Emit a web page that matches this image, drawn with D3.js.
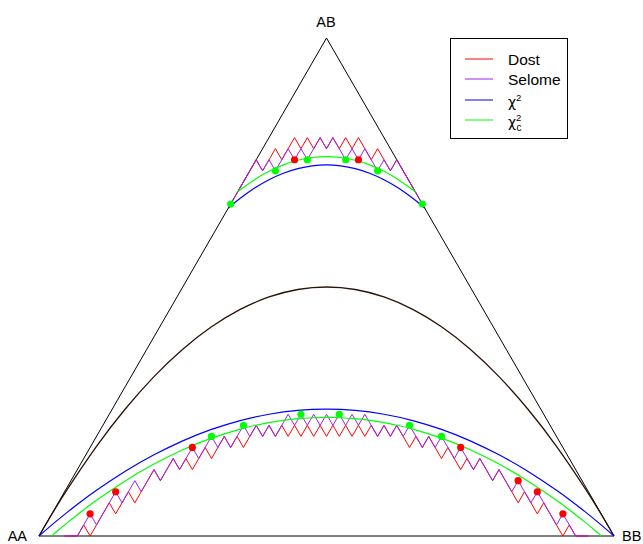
<!DOCTYPE html>
<html><head><meta charset="utf-8">
<script src="https://cdn.jsdelivr.net/npm/d3@7"></script>
<style>html,body{margin:0;padding:0;background:#fff;}svg{display:block;font-family:"Liberation Sans",Arial,Helvetica,sans-serif;}</style>
</head><body><svg id="chart" width="643" height="544"></svg>
<script>
// ---- data ----
const sampleSize = 45;
const vertexLabels = ["AA", "AB", "BB"];
const legendLabels = ["Dost", "Selome", "χ", "χ"];
const legendColors = ["#ff0000", "#a020f0", "#0000ff", "#00ff00"];

// acceptance-region boundaries on the lattice (B allele count, heterozygote count)
const lowerAlleleB = [4,6,7,8,9,10,11,12,13,14,15,16,17,18,19,20,21,22,23,24,25,26,27,28,29,30,31,32,33,34,35,36,37,38,39,40,41,42,43,44,45,46,47,48,49,50,51,52,53,54,55,56,57,58,59,60,61,62,63,64,65,66,67,68,69,70,71,72,73,74,75,76,77,78,79,80,81,82,83,84,86];
const selomeLowerHet = [0,0,1,2,1,2,3,4,3, 4,5,4,5,6,5,6,7,6,7, 8,7,8,9,8,9,8,9,10,9, 10,9,10,9,10,11,10,11,10,11,10,11, 10,11,10,11,10,11,10,9,10,9, 10,9,10,9,8,9,8,9,8,7, 8,7,6,7,6,5,6,5,4,5, 4,3,4,3,2,1,2,1,0,0];
const dostLowerHet = [0,0,1,0,1,2,3,2,3, 4,3,4,5,6,5,6,7,6,7, 6,7,8,7,8,9,8,9,8,9, 10,9,10,9,10,9,10,9,10,9,10,9, 10,9,10,9,10,9,10,9,10,9, 10,9,8,9,8,9,8,7,8,7, 6,7,6,7,6,5,6,5,4,3, 4,3,2,3,2,1,0,1,0,0];
const selomeUpperAlleleB = [30,31,32,33,34,35,36,37,38,39,40,41,42,43,44,45,46,47,48,49,50,51,52,53,54,55,56,57,58,59,60];
const selomeUpperHet = [30,31,32,33,34,33,34,33,34,35, 34,35,34,35,36,35,36,35,34,35, 34,35,34,33,34,33,34,33,32,31,30];
const dostUpperAlleleB = [31,32,33,34,35,36,37,38,39,40,41,42,43,44,45,46,47,48,49,50,51,52,53,54,55,56,57,58,59];
const dostUpperHet = [31,32,33,34,33,34,35,34,35, 36,35,36,35,36,35,36,35,36,35, 36,35,34,35,34,33,34,33,32,31];

// samples marked with dots (B allele count, heterozygote count)
const redDotAlleleB = [8,12,24,66,75,78,82,40,50];
const redDotHet = [2,4,8,8,5,4,2,34,34];
const greenDotAlleleB = [27,32,41,47,58,63,30,37,42,48,53,60];
const greenDotHet = [9,10,11,11,10,9,30,33,34,34,33,30];

// curves: B allele frequency and heterozygote frequency
const hweFreqB = [0,0.01,0.025,0.05,0.1,0.15,0.2,0.25,0.3,0.35,0.4,0.45,0.5,0.55,0.6,0.65,0.7,0.75,0.8,0.85,0.9,0.95,0.975,0.99,1];
const hweHet = [0,0.0198,0.0488,0.095,0.18,0.255,0.32,0.375,0.42,0.455,0.48,0.495,0.5,0.495,0.48,0.455,0.42,0.375,0.32,0.255,0.18,0.095,0.0488,0.0198,0];
const chiLowFreqB = [0,0.025,0.05,0.075,0.1,0.15,0.2,0.25,0.3,0.35,0.4,0.45,0.5,0.55,0.6,0.65,0.7,0.75,0.8,0.85,0.9,0.925,0.95,0.975,1];
const chiLowHet = [0,0.0248,0.0484,0.0707,0.0917,0.1299,0.1630,0.1911,0.2140,0.2318,0.2445,0.2522,0.2547,0.2522,0.2445,0.2318,0.2140,0.1911,0.1630,0.1299,0.0917,0.0707,0.0484,0.0248,0];
const chiUpFreqB = [0.3291,0.3375,0.35,0.375,0.4,0.425,0.45,0.475,0.5,0.525,0.55,0.575,0.6,0.625,0.65,0.6625,0.6709];
const chiUpHet = [0.6582,0.6665,0.6782,0.6987,0.7155,0.7285,0.7378,0.7434,0.7453,0.7434,0.7378,0.7285,0.7155,0.6987,0.6782,0.6665,0.6582];
const chiCLowFreqB = [0.0219,0.025,0.035,0.05,0.07,0.1,0.15,0.2,0.25,0.3,0.35,0.375,0.4,0.425,0.45,0.475,0.5,0.525,0.55,0.575,0.6,0.625,0.65,0.7,0.75,0.8,0.85,0.9,0.93,0.95,0.965,0.975,0.9781];
const chiCLowHet = [0,0.0033,0.0131,0.0273,0.0457,0.0716,0.1106,0.1444,0.1731,0.1965,0.2147,0.2219,0.2277,0.2323,0.2355,0.2375,0.2381,0.2375,0.2355,0.2323,0.2277,0.2219,0.2147,0.1965,0.1731,0.1444,0.1106,0.0716,0.0457,0.0273,0.0131,0.0033,0];
const chiCUpFreqB = [0.3457,0.35,0.375,0.4,0.425,0.45,0.475,0.5,0.525,0.55,0.575,0.6,0.625,0.65,0.6543];
const chiCUpHet = [0.6914,0.6953,0.7156,0.7323,0.7452,0.7545,0.7600,0.7619,0.7600,0.7545,0.7452,0.7323,0.7156,0.6953,0.6914];

// ---- drawing ----
const svg = d3.select("#chart");
const x = d3.scaleLinear().domain([0, 1]).range([39, 614]);
const y = d3.scaleLinear().domain([0, 1]).range([536, 38]);
const xc = d3.scaleLinear().domain([0, 2 * sampleSize]).range([39, 614]);
const yc = d3.scaleLinear().domain([0, sampleSize]).range([536, 38]);

const zip = (a, b) => a.map((v, i) => [v, b[i]]);
const freqLine = d3.line().x(d => x(d[0])).y(d => y(d[1])).curve(d3.curveNatural);
const countLine = d3.line().x(d => xc(d[0])).y(d => yc(d[1]));

// triangle
svg.append("path")
  .attr("d", d3.line()([[x(0), y(0)], [x(1), y(0)], [x(0.5), y(1)]]) + "Z")
  .attr("fill", "none").attr("stroke", "#000").attr("stroke-width", 1);

// HWE curve
svg.append("path").attr("d", freqLine(zip(hweFreqB, hweHet)))
  .attr("fill", "none").attr("stroke", "#2a1208").attr("stroke-width", 1.3);

// Dost (red) then Selome (purple)
[[lowerAlleleB, dostLowerHet], [dostUpperAlleleB, dostUpperHet]].forEach(([a, h]) => {
  svg.append("path").attr("d", countLine(zip(a, h)))
    .attr("fill", "none").attr("stroke", legendColors[0]).attr("stroke-width", 1);
});
[[lowerAlleleB, selomeLowerHet], [selomeUpperAlleleB, selomeUpperHet]].forEach(([a, h]) => {
  svg.append("path").attr("d", countLine(zip(a, h)))
    .attr("fill", "none").attr("stroke", legendColors[1]).attr("stroke-width", 1);
});

// chi-square curves
[[chiLowFreqB, chiLowHet], [chiUpFreqB, chiUpHet]].forEach(([q, h]) => {
  svg.append("path").attr("d", freqLine(zip(q, h)))
    .attr("fill", "none").attr("stroke", legendColors[2]).attr("stroke-width", 1.2);
});
[[chiCLowFreqB, chiCLowHet], [chiCUpFreqB, chiCUpHet]].forEach(([q, h]) => {
  svg.append("path").attr("d", freqLine(zip(q, h)))
    .attr("fill", "none").attr("stroke", legendColors[3]).attr("stroke-width", 1.2);
});

// dots
svg.append("g").selectAll("circle").data(zip(redDotAlleleB, redDotHet)).join("circle")
  .attr("cx", d => xc(d[0])).attr("cy", d => yc(d[1])).attr("r", 3.6).attr("fill", "#ff0000");
svg.append("g").selectAll("circle").data(zip(greenDotAlleleB, greenDotHet)).join("circle")
  .attr("cx", d => xc(d[0])).attr("cy", d => yc(d[1])).attr("r", 3.6).attr("fill", "#00ff00");

// vertex labels
svg.append("text").attr("x", 27).attr("y", 541).attr("text-anchor", "end")
  .attr("font-size", 14.5).text(vertexLabels[0]);
svg.append("text").attr("x", 326).attr("y", 27).attr("text-anchor", "middle")
  .attr("font-size", 14.5).text(vertexLabels[1]);
svg.append("text").attr("x", 622).attr("y", 541).attr("text-anchor", "start")
  .attr("font-size", 14.5).text(vertexLabels[2]);

// legend
const lg = svg.append("g");
lg.append("rect").attr("x", 450.5).attr("y", 38.5).attr("width", 117).attr("height", 100)
  .attr("fill", "#fff").attr("stroke", "#000").attr("stroke-width", 1);
const rowY = [59, 79, 100, 120];
legendLabels.forEach((lab, i) => {
  lg.append("line").attr("x1", 465).attr("x2", 493).attr("y1", rowY[i]).attr("y2", rowY[i])
    .attr("stroke", legendColors[i]).attr("stroke-width", 1);
  const t = lg.append("text").attr("x", 508).attr("font-size", 15.5);
  if (i < 2) {
    t.attr("y", rowY[i] + 6).text(lab);
  } else {
    t.attr("y", rowY[i] + 7).attr("font-family", "'DejaVu Sans', sans-serif").attr("font-size", 14).text(lab);
    lg.append("text").attr("x", 516).attr("y", rowY[i] + 0.5).attr("font-size", 9.5).text("2");
    if (i === 3) {
      lg.append("text").attr("x", 516.5).attr("y", rowY[i] + 10.5).attr("font-size", 10).text("c");
    }
  }
});
</script>
</body></html>
